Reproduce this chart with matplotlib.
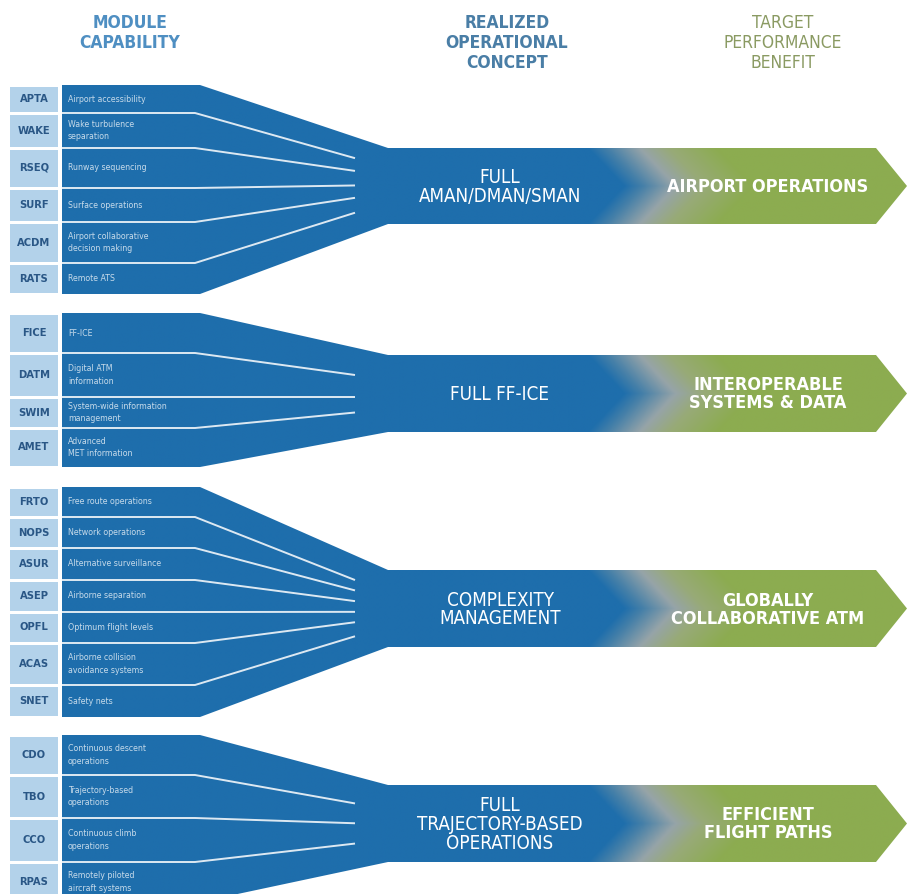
import numpy as np
import matplotlib
matplotlib.use("Agg")
import matplotlib.pyplot as plt
from matplotlib.patches import Polygon, Rectangle
from matplotlib.colors import LinearSegmentedColormap
from matplotlib import font_manager as fm

# ---------------- data ----------------
headers = ["MODULE\nCAPABILITY", "REALIZED\nOPERATIONAL\nCONCEPT", "TARGET\nPERFORMANCE\nBENEFIT"]

g1_codes = ["APTA", "WAKE", "RSEQ", "SURF", "ACDM", "RATS"]
g1_desc = ["Airport accessibility", "Wake turbulence\nseparation", "Runway sequencing",
           "Surface operations", "Airport collaborative\ndecision making", "Remote ATS"]
g2_codes = ["FICE", "DATM", "SWIM", "AMET"]
g2_desc = ["FF-ICE", "Digital ATM\ninformation", "System-wide information\nmanagement",
           "Advanced\nMET information"]
g3_codes = ["FRTO", "NOPS", "ASUR", "ASEP", "OPFL", "ACAS", "SNET"]
g3_desc = ["Free route operations", "Network operations", "Alternative surveillance",
           "Airborne separation", "Optimum flight levels", "Airborne collision\navoidance systems",
           "Safety nets"]
g4_codes = ["CDO", "TBO", "CCO", "RPAS"]
g4_desc = ["Continuous descent\noperations", "Trajectory-based\noperations",
           "Continuous climb\noperations", "Remotely piloted\naircraft systems"]

concepts = ["FULL\nAMAN/DMAN/SMAN", "FULL FF-ICE", "COMPLEXITY\nMANAGEMENT",
            "FULL\nTRAJECTORY-BASED\nOPERATIONS"]
benefits = ["AIRPORT OPERATIONS", "INTEROPERABLE\nSYSTEMS & DATA", "GLOBALLY\nCOLLABORATIVE ATM",
            "EFFICIENT\nFLIGHT PATHS"]

# ---------------- layout (pixels) ----------------
row_edges = [[85, 113, 148, 188, 222, 263, 294],
             [313, 353, 397, 428, 467],
             [487, 517, 548, 580, 612, 643, 685, 717],
             [735, 775, 818, 862, 902]]
shafts = [(148, 224), (355, 432), (570, 647), (785, 862)]

W, H = 909, 894
BOX_X0, BOX_X1 = 10, 58
BAR_X0, FLAT_X1, SHAFT_X0 = 62, 200, 388
TIP_X0, TIP_X1 = 876, 907

BLUE = (30/255, 110/255, 172/255)
LIGHT = "#b3d2ea"
CODE_COL = "#2a5786"

FAM = ["Roboto", "DejaVu Sans"]
STRETCH = "normal"
for f in fm.fontManager.ttflist:
    st = str(f.stretch).lower()
    if ("condensed" in f.name.lower() or "narrow" in f.name.lower()
            or "condensed" in st):
        FAM = [f.name, "DejaVu Sans"]
        STRETCH = f.stretch
        break

fig = plt.figure(figsize=(W / 100, H / 100), dpi=100)
ax = fig.add_axes([0, 0, 1, 1])
ax.set_xlim(0, W)
ax.set_ylim(H, 0)
ax.axis("off")

cmap = LinearSegmentedColormap.from_list("bg", [
    (0.0, BLUE),
    (0.15, (70/255, 128/255, 168/255)),
    (0.40, (150/255, 164/255, 168/255)),
    (0.62, (152/255, 170/255, 120/255)),
    (1.0, (140/255, 172/255, 80/255))])

groups = [(g1_codes, g1_desc), (g2_codes, g2_desc), (g3_codes, g3_desc), (g4_codes, g4_desc)]


def txt(x, y, s, **kw):
    kw.setdefault("family", FAM)
    kw.setdefault("fontstretch", STRETCH)
    return ax.text(x, y, s, **kw)


for gi, (codes, descs) in enumerate(groups):
    edges = row_edges[gi]
    top, bot = edges[0], edges[-1]
    st, sb = shafts[gi]
    mid = (st + sb) / 2
    poly = [(BAR_X0, top), (FLAT_X1, top), (SHAFT_X0, st), (TIP_X0, st), (TIP_X1, mid),
            (TIP_X0, sb), (SHAFT_X0, sb), (FLAT_X1, bot), (BAR_X0, bot)]
    patch = Polygon(poly, closed=True, facecolor="none", edgecolor="none")
    ax.add_patch(patch)
    xs = np.linspace(BAR_X0, TIP_X1, 900)
    ys = np.linspace(top, bot, 300)
    X, Y = np.meshgrid(xs, ys)
    hh = (sb - st) / 2
    xb = 588 + 36 * np.clip(1 - np.abs(Y - mid) / hh, 0, 1)
    T = np.clip((X - xb) / 130, 0, 1)
    im = ax.imshow(T, extent=(BAR_X0, TIP_X1, bot, top), cmap=cmap, vmin=0, vmax=1,
                   aspect="auto", interpolation="bilinear", zorder=1)
    im.set_clip_path(patch)

    for ri, (code, desc) in enumerate(zip(codes, descs)):
        y0, y1 = edges[ri], edges[ri + 1]
        ax.add_patch(Rectangle((BOX_X0, y0 + 1.5), BOX_X1 - BOX_X0, (y1 - y0) - 3,
                               facecolor=LIGHT, edgecolor="none", zorder=2))
        txt((BOX_X0 + BOX_X1) / 2, (y0 + y1) / 2, code, ha="center", va="center",
            fontsize=8, fontweight="bold", color=CODE_COL, zorder=3)
        txt(68, (y0 + y1) / 2, desc, ha="left", va="center", fontsize=6.3,
            color="white", alpha=0.75, linespacing=1.45, zorder=3)

    for yi in edges[1:-1]:
        ym = st + (yi - top) / (bot - top) * (sb - st)
        ax.plot([BAR_X0, FLAT_X1 - 5, 355], [yi, yi, ym], color="white", lw=1.4,
                alpha=0.85, solid_capstyle="butt", zorder=3)

    txt(500, mid + 1, concepts[gi], ha="center", va="center", fontsize=13.5,
        color="white", linespacing=1.0, zorder=4)
    txt(768, mid + 1, benefits[gi], ha="center", va="center", fontsize=13,
        fontweight="bold", color="white", linespacing=1.0, zorder=4)

txt(130, 33, headers[0], ha="center", va="center", fontsize=12.5, fontweight="bold",
    color="#4f8fc2", linespacing=1.15)
txt(507, 43, headers[1], ha="center", va="center", fontsize=12.5, fontweight="bold",
    color="#4a7ea6", linespacing=1.15)
txt(783, 43, headers[2], ha="center", va="center", fontsize=12.5,
    color="#8a9a62", linespacing=1.15)

fig.savefig("out.png", dpi=100)
